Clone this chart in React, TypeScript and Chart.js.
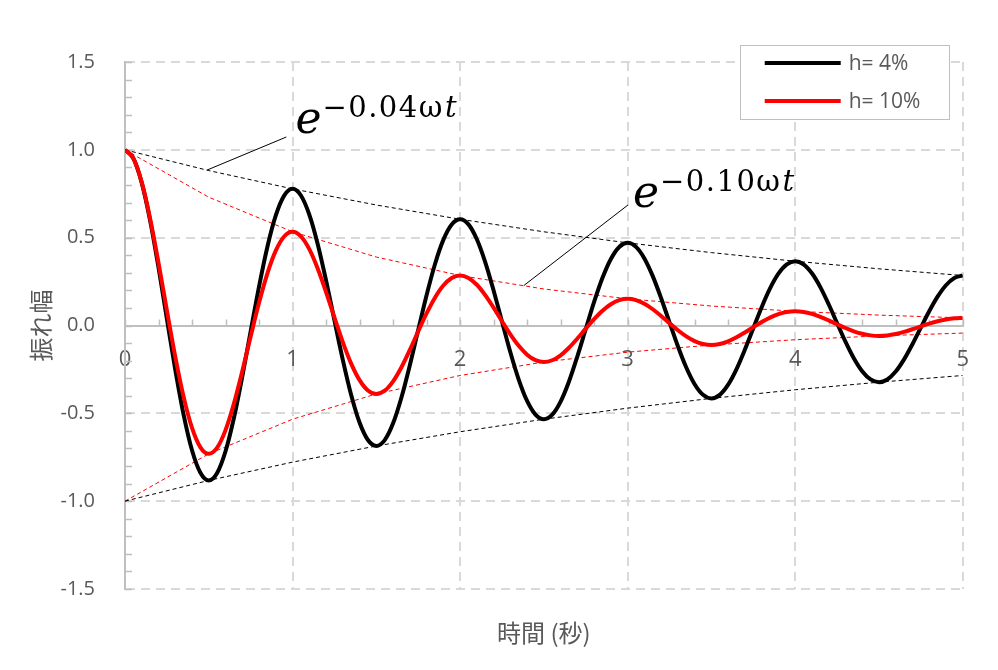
import React, { useEffect, useRef } from "react";
import { Chart, registerables } from "chart.js";

Chart.register(...registerables);

// ---------- data ----------
const TIME = [
  0, 0.05, 0.1, 0.15, 0.2, 0.25, 0.3, 0.35, 0.4, 0.45,
  0.5, 0.55, 0.6, 0.65, 0.7, 0.75, 0.8, 0.85, 0.9, 0.95,
  1, 1.05, 1.1, 1.15, 1.2, 1.25, 1.3, 1.35, 1.4, 1.45,
  1.5, 1.55, 1.6, 1.65, 1.7, 1.75, 1.8, 1.85, 1.9, 1.95,
  2, 2.05, 2.1, 2.15, 2.2, 2.25, 2.3, 2.35, 2.4, 2.45,
  2.5, 2.55, 2.6, 2.65, 2.7, 2.75, 2.8, 2.85, 2.9, 2.95,
  3, 3.05, 3.1, 3.15, 3.2, 3.25, 3.3, 3.35, 3.4, 3.45,
  3.5, 3.55, 3.6, 3.65, 3.7, 3.75, 3.8, 3.85, 3.9, 3.95,
  4, 4.05, 4.1, 4.15, 4.2, 4.25, 4.3, 4.35, 4.4, 4.45,
  4.5, 4.55, 4.6, 4.65, 4.7, 4.75, 4.8, 4.85, 4.9, 4.95,
  5,
];

const H4 = [
  1, 0.9515, 0.8118, 0.5973, 0.33, 0.0376, -0.2513, -0.5086, -0.7104, -0.8383,
  -0.8819, -0.8391, -0.716, -0.5267, -0.291, -0.0331, 0.2216, 0.4486, 0.6265, 0.7393,
  0.7778, 0.74, 0.6314, 0.4645, 0.2567, 0.0292, -0.1955, -0.3956, -0.5525, -0.652,
  -0.6859, -0.6526, -0.5569, -0.4097, -0.2263, -0.0258, 0.1724, 0.3489, 0.4873, 0.575,
  0.6049, 0.5756, 0.4911, 0.3613, 0.1996, 0.0227, -0.152, -0.3077, -0.4297, -0.5071,
  -0.5335, -0.5076, -0.4331, -0.3186, -0.176, -0.02, 0.1341, 0.2714, 0.379, 0.4472,
  0.4705, 0.4477, 0.382, 0.281, 0.1553, 0.0177, -0.1182, -0.2393, -0.3342, -0.3944,
  -0.4149, -0.3948, -0.3369, -0.2478, -0.1369, -0.0156, 0.1043, 0.2111, 0.2948, 0.3478,
  0.3659, 0.3482, 0.2971, 0.2186, 0.1208, 0.0137, -0.092, -0.1861, -0.2599, -0.3068,
  -0.3227, -0.3071, -0.262, -0.1927, -0.1065, -0.0121, 0.0811, 0.1641, 0.2292, 0.2705,
  0.2846,
];

const H10 = [
  1, 0.9518, 0.8152, 0.6089, 0.3568, 0.0859, -0.1767, -0.4065, -0.5833, -0.6934,
  -0.7304, -0.6952, -0.5955, -0.4447, -0.2606, -0.0627, 0.1291, 0.2969, 0.426, 0.5065,
  0.5335, 0.5078, 0.4349, 0.3248, 0.1904, 0.0458, -0.0943, -0.2169, -0.3112, -0.3699,
  -0.3897, -0.3709, -0.3177, -0.2373, -0.139, -0.0335, 0.0689, 0.1584, 0.2273, 0.2702,
  0.2846, 0.2709, 0.232, 0.1733, 0.1016, 0.0244, -0.0503, -0.1157, -0.166, -0.1974,
  -0.2079, -0.1979, -0.1695, -0.1266, -0.0742, -0.0179, 0.0367, 0.0845, 0.1212, 0.1441,
  0.1518, 0.1445, 0.1238, 0.0925, 0.0542, 0.013, -0.0268, -0.0617, -0.0886, -0.1053,
  -0.1109, -0.1056, -0.0904, -0.0675, -0.0396, -0.0095, 0.0196, 0.0451, 0.0647, 0.0769,
  0.081, 0.0771, 0.066, 0.0493, 0.0289, 0.007, -0.0143, -0.0329, -0.0473, -0.0562,
  -0.0592, -0.0563, -0.0482, -0.036, -0.0211, -0.0051, 0.0105, 0.0241, 0.0345, 0.041,
  0.0432,
];

const ENV_TIME = [0, 0.5, 1, 1.5, 2, 2.5, 3, 3.5, 4, 4.5, 5];
const ENV_H4_UPPER = [1, 0.8819, 0.7778, 0.6859, 0.6049, 0.5335, 0.4705, 0.4149, 0.3659, 0.3227, 0.2846];
const ENV_H4_LOWER = [-1, -0.8819, -0.7778, -0.6859, -0.6049, -0.5335, -0.4705, -0.4149, -0.3659, -0.3227, -0.2846];
const ENV_H10_UPPER = [1, 0.7304, 0.5335, 0.3897, 0.2846, 0.2079, 0.1518, 0.1109, 0.081, 0.0592, 0.0432];
const ENV_H10_LOWER = [-1, -0.7304, -0.5335, -0.3897, -0.2846, -0.2079, -0.1518, -0.1109, -0.081, -0.0592, -0.0432];

const SERIES_LABELS = ["h= 4%", "h= 10%"];
const SERIES_COLORS = ["#000000", "#ff0000"];

const X_MIN = 0;
const X_MAX = 5;
const X_STEP = 1;
const X_MINOR_STEP = 0.2;
const Y_MIN = -1.5;
const Y_MAX = 1.5;
const Y_STEP = 0.5;
const Y_MINOR_STEP = 0.1;

const X_TITLE = "時間 (秒)";
const Y_TITLE = "振れ幅";

// annotation labels: coefficient, leader line (data coords), text anchor (data coords)
const ANNOTATION_COEFS = ["0.04", "0.10"];
const ANNOTATION_FROM = [[0.49, 0.885], [2.38, 0.227]];
const ANNOTATION_TO = [[0.963, 1.073], [3.002, 0.686]];
const ANNOTATION_TEXT_AT = [[1.029, 1.096], [3.044, 0.675]];

const TEXT_COLOR = "#595959";
const FONT = "'Open Sans', 'Noto Sans CJK JP', sans-serif";
const CJK_FONT = "'Noto Sans CJK JP', sans-serif";

function pts(xs: number[], ys: number[]) {
  return xs.map((x, i) => ({ x, y: ys[i] }));
}

const decorPlugin = {
  id: "decor",
  beforeDatasetsDraw(chart: any) {
    const { ctx } = chart;
    const xs = chart.scales.x;
    const ys = chart.scales.y;
    const x0 = xs.getPixelForValue(0);
    const y0 = ys.getPixelForValue(0);
    ctx.save();
    ctx.strokeStyle = "#bfbfbf";
    ctx.lineWidth = 1.5;
    // y minor ticks (inside)
    const nY = Math.round((Y_MAX - Y_MIN) / Y_MINOR_STEP);
    for (let i = 0; i <= nY; i++) {
      const v = Y_MIN + i * Y_MINOR_STEP;
      const py = Math.round(ys.getPixelForValue(v)) + 0.5;
      ctx.beginPath();
      ctx.moveTo(x0, py);
      ctx.lineTo(x0 + 7, py);
      ctx.stroke();
    }
    // x minor ticks (upwards from zero line)
    const nX = Math.round((X_MAX - X_MIN) / X_MINOR_STEP);
    for (let i = 0; i <= nX; i++) {
      const v = X_MIN + i * X_MINOR_STEP;
      const px = Math.round(xs.getPixelForValue(v)) + 0.5;
      ctx.beginPath();
      ctx.moveTo(px, y0);
      ctx.lineTo(px, y0 - 6);
      ctx.stroke();
    }
    ctx.restore();
  },
  afterDraw(chart: any) {
    const { ctx, chartArea } = chart;
    const xs = chart.scales.x;
    const ys = chart.scales.y;
    ctx.save();

    // axis titles
    ctx.fillStyle = TEXT_COLOR;
    ctx.font = `24px ${CJK_FONT}`;
    ctx.textAlign = "center";
    ctx.textBaseline = "middle";
    ctx.fillText(X_TITLE, (chartArea.left + chartArea.right) / 2, chartArea.bottom + 44);
    ctx.save();
    ctx.translate(chartArea.left - 84, (chartArea.top + chartArea.bottom) / 2);
    ctx.rotate(-Math.PI / 2);
    ctx.font = `24px ${CJK_FONT}`;
    ctx.fillText(Y_TITLE, 0, 0);
    ctx.restore();

    // annotations
    for (let i = 0; i < ANNOTATION_COEFS.length; i++) {
      const fx = xs.getPixelForValue(ANNOTATION_FROM[i][0]);
      const fy = ys.getPixelForValue(ANNOTATION_FROM[i][1]);
      const tx = xs.getPixelForValue(ANNOTATION_TO[i][0]);
      const ty = ys.getPixelForValue(ANNOTATION_TO[i][1]);
      ctx.strokeStyle = "#000000";
      ctx.lineWidth = 1;
      ctx.beginPath();
      ctx.moveTo(fx, fy);
      ctx.lineTo(tx, ty);
      ctx.stroke();

      const ax = xs.getPixelForValue(ANNOTATION_TEXT_AT[i][0]);
      const ay = ys.getPixelForValue(ANNOTATION_TEXT_AT[i][1]);
      ctx.fillStyle = "#000000";
      ctx.textAlign = "left";
      ctx.textBaseline = "alphabetic";
      ctx.font = `italic 44px 'DejaVu Serif', serif`;
      ctx.fillText("e", ax - 2, ay);
      const sup = "\u2212" + ANNOTATION_COEFS[i] + "\u03c9";
      ctx.font = `29px 'DejaVu Serif', serif`;
      (ctx as any).letterSpacing = "1.5px";
      const supX = ax + 25;
      const supY = ay - 16;
      ctx.fillText(sup, supX, supY);
      const w = ctx.measureText(sup).width;
      ctx.font = `italic 29px 'DejaVu Serif', serif`;
      ctx.fillText("t", supX + w + 1, supY);
      (ctx as any).letterSpacing = "0px";
    }

    // legend
    const bw = 209;
    const bh = 74;
    const bx = chartArea.right - 14 - bw;
    const by = chartArea.top - 17;
    ctx.fillStyle = "#ffffff";
    ctx.fillRect(bx, by, bw, bh);
    ctx.strokeStyle = "#bfbfbf";
    ctx.lineWidth = 1;
    ctx.strokeRect(Math.round(bx) + 0.5, Math.round(by) + 0.5, bw, bh);
    const rows = [18, 56];
    SERIES_LABELS.forEach((label, i) => {
      const ly = by + rows[i];
      ctx.strokeStyle = SERIES_COLORS[i];
      ctx.lineWidth = 4;
      ctx.beginPath();
      ctx.moveTo(bx + 25, ly);
      ctx.lineTo(bx + 101, ly);
      ctx.stroke();
      ctx.fillStyle = TEXT_COLOR;
      ctx.font = `21px ${FONT}`;
      ctx.textAlign = "left";
      ctx.textBaseline = "middle";
      ctx.fillText(label, bx + 109, ly + 1);
    });
    ctx.restore();
  },
};

export default function App() {
  const ref = useRef<HTMLCanvasElement | null>(null);

  useEffect(() => {
    if (!ref.current) return;
    const chart = new Chart(ref.current, {
      type: "line",
      data: {
        datasets: [
          {
            label: SERIES_LABELS[1],
            data: pts(TIME, H10),
            borderColor: SERIES_COLORS[1],
            borderWidth: 4,
            pointRadius: 0,
            cubicInterpolationMode: "monotone",
            order: 0,
          },
          {
            label: SERIES_LABELS[0],
            data: pts(TIME, H4),
            borderColor: SERIES_COLORS[0],
            borderWidth: 4,
            pointRadius: 0,
            cubicInterpolationMode: "monotone",
            order: 1,
          },
          {
            label: "env4+",
            data: pts(ENV_TIME, ENV_H4_UPPER),
            borderColor: "#000000",
            borderWidth: 1,
            borderDash: [4, 3],
            pointRadius: 0,
            tension: 0,
            order: 2,
          },
          {
            label: "env4-",
            data: pts(ENV_TIME, ENV_H4_LOWER),
            borderColor: "#000000",
            borderWidth: 1,
            borderDash: [4, 3],
            pointRadius: 0,
            tension: 0,
            order: 2,
          },
          {
            label: "env10+",
            data: pts(ENV_TIME, ENV_H10_UPPER),
            borderColor: "#ff0000",
            borderWidth: 1,
            borderDash: [4, 3],
            pointRadius: 0,
            tension: 0,
            order: 2,
          },
          {
            label: "env10-",
            data: pts(ENV_TIME, ENV_H10_LOWER),
            borderColor: "#ff0000",
            borderWidth: 1,
            borderDash: [4, 3],
            pointRadius: 0,
            tension: 0,
            order: 2,
          },
        ],
      },
      options: {
        animation: false,
        responsive: true,
        maintainAspectRatio: false,
        layout: { padding: { left: 0, right: 24, top: 54, bottom: 73 } },
        plugins: {
          legend: { display: false },
          tooltip: { enabled: false },
          title: { display: false },
        },
        scales: {
          x: {
            type: "linear",
            position: { y: 0 } as any,
            min: X_MIN,
            max: X_MAX,
            ticks: {
              stepSize: X_STEP,
              color: TEXT_COLOR,
              font: { family: FONT, size: 22 },
              padding: 21,
              maxRotation: 0,
            },
            grid: {
              color: (c: any) => (c.tick && c.tick.value === 0 ? "rgba(0,0,0,0)" : "#d9d9d9"),
              lineWidth: 2,
              drawTicks: false,
            },
            border: { display: true, color: "#bfbfbf", width: 2, dash: [9, 6] },
          },
          y: {
            type: "linear",
            min: Y_MIN,
            max: Y_MAX,
            ticks: {
              stepSize: Y_STEP,
              color: TEXT_COLOR,
              font: { family: FONT, size: 20 },
              padding: 30,
              callback: (v: any) => Number(v).toFixed(1),
            },
            grid: {
              color: (c: any) => (c.tick && c.tick.value === 0 ? "rgba(0,0,0,0)" : "#d9d9d9"),
              lineWidth: 2,
              drawTicks: false,
            },
            border: { display: true, color: "#bfbfbf", width: 2, dash: [9, 6] },
            afterFit: (s: any) => {
              s.width = 117;
            },
          },
        },
      },
      plugins: [decorPlugin],
    });
    return () => chart.destroy();
  }, []);

  return (
    <div style={{ width: 982, height: 654, position: "relative" }}>
      <canvas ref={ref} />
    </div>
  );
}
